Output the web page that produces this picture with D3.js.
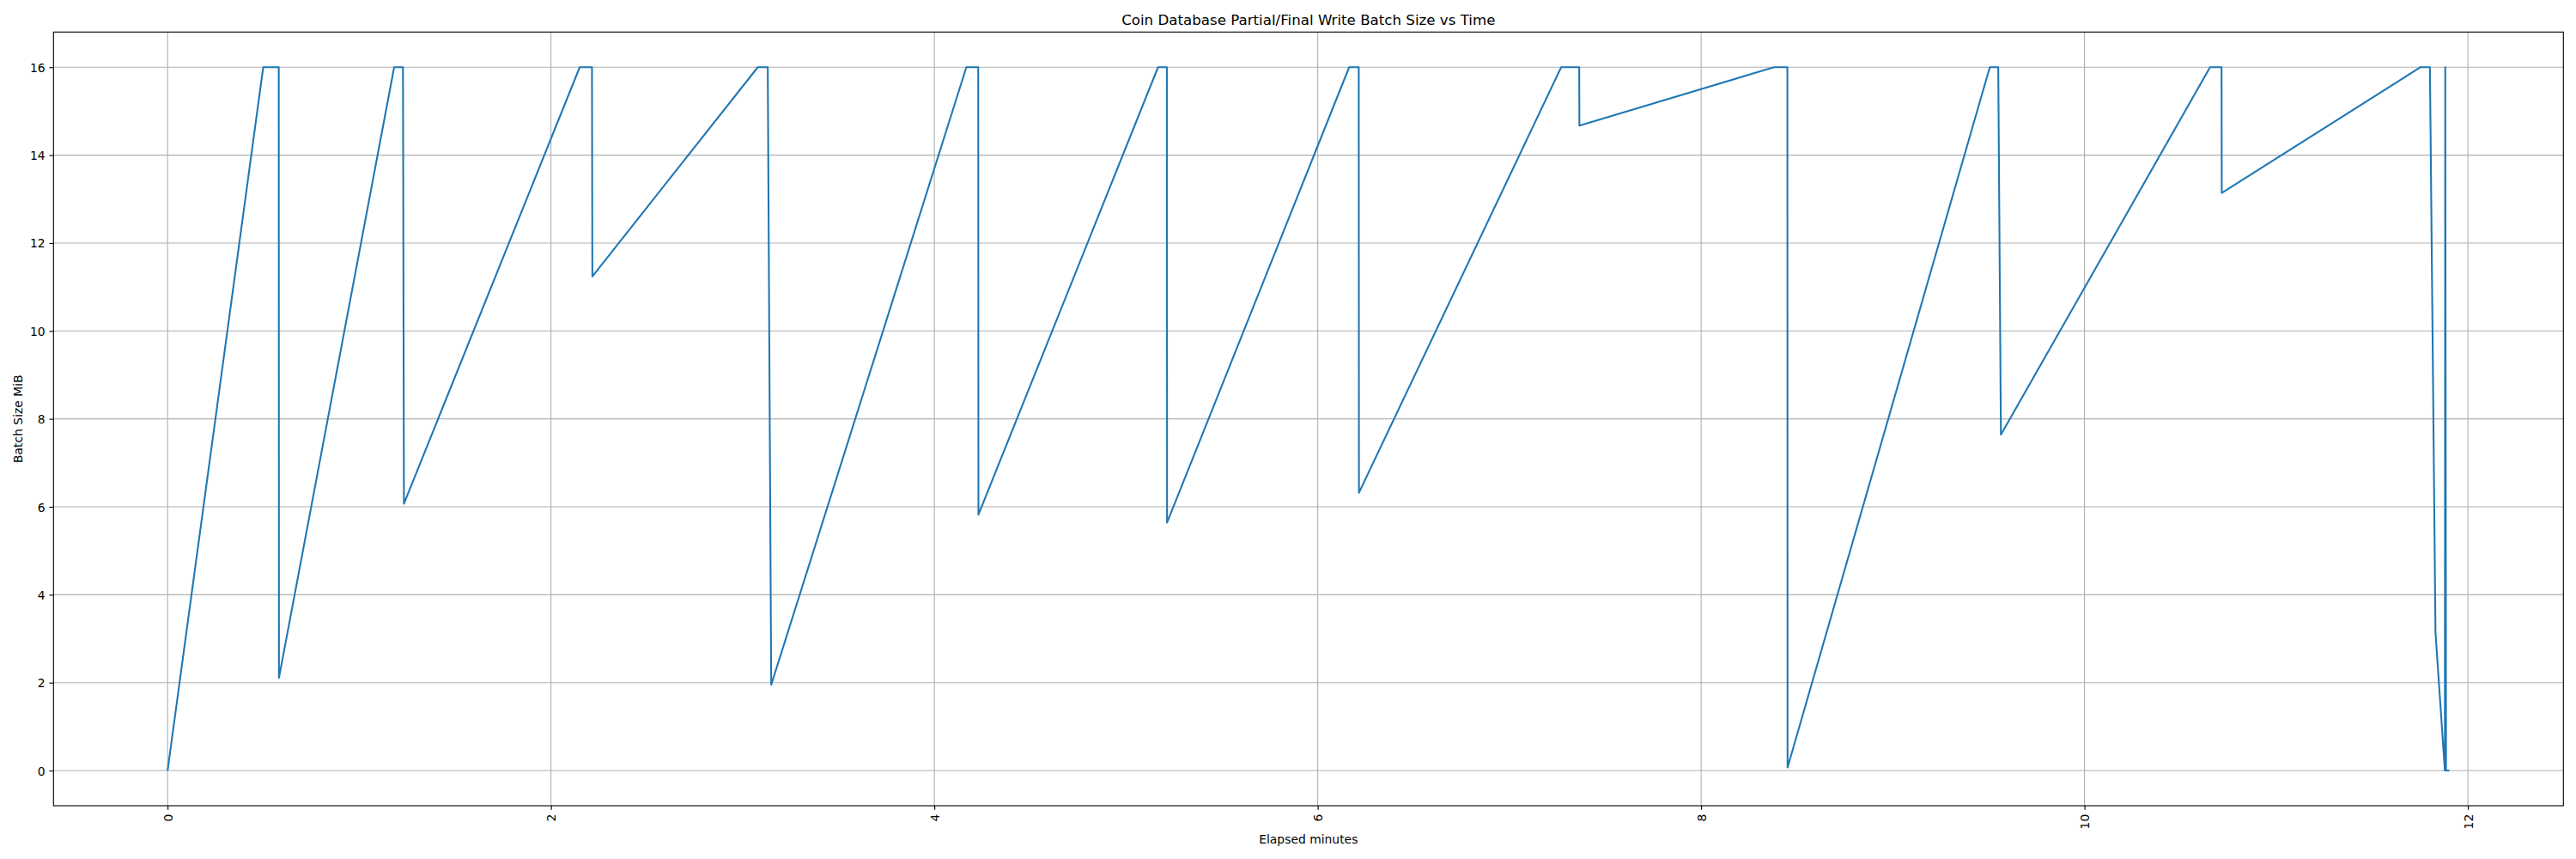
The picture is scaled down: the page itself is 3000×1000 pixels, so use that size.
<!DOCTYPE html>
<html>
<head>
<meta charset="utf-8">
<script src="https://cdn.jsdelivr.net/npm/d3@7"></script>
<style>
  html, body { margin: 0; padding: 0; background: #fff; }
  svg { display: block; font-family: "DejaVu Sans", sans-serif; }
</style>
</head>
<body>
<svg id="chart" width="3000" height="1000"></svg>
<script>
// Elapsed minutes
const elapsedMinutes = [
  0,
  0.499, 0.580, 0.581,
  1.182, 1.228, 1.233,
  2.150, 2.214, 2.216,
  3.079, 3.131, 3.149,
  4.167, 4.229, 4.230,
  5.167, 5.213, 5.214,
  6.164, 6.214, 6.215,
  7.270, 7.364, 7.365,
  8.380, 8.450, 8.451,
  9.506, 9.550, 9.564,
  10.655, 10.715, 10.716,
  11.753, 11.802, 11.831, 11.880, 11.882, 11.886, 11.903
];
// Batch Size MiB
const batchSizeMiB = [
  0,
  16, 16, 2.11,
  16, 16, 6.07,
  16, 16, 11.24,
  16, 16, 1.95,
  16, 16, 5.82,
  16, 16, 5.64,
  16, 16, 6.32,
  16, 16, 14.67,
  16, 16, 0.07,
  16, 16, 7.64,
  16, 16, 13.14,
  16, 16, 3.14, 0, 16, 0, 0
];
const xTicks = [0, 2, 4, 6, 8, 10, 12];
const yTicks = [0, 2, 4, 6, 8, 10, 12, 14, 16];
const titleText = "Coin Database Partial/Final Write Batch Size vs Time";
const xLabelText = "Elapsed minutes";
const yLabelText = "Batch Size MiB";

(function () {
  const data = elapsedMinutes.map((t, i) => ({ t, v: batchSizeMiB[i] }));

  const mLeft = 62.3, mRight = 2985.3, mTop = 37.3, mBottom = 938;
  const svg = d3.select("#chart");

  const [x0, x1] = d3.extent(elapsedMinutes);
  const xPad = (x1 - x0) * 0.05;
  const [y0, y1] = d3.extent(batchSizeMiB);
  const yPad = (y1 - y0) * 0.05;

  const x = d3.scaleLinear().domain([x0 - xPad, x1 + xPad]).range([mLeft, mRight]);
  const y = d3.scaleLinear().domain([y0 - yPad, y1 + yPad]).range([mBottom, mTop]);

  const tickLen = 4.86, tickPad = 4.86, fs = 13.9;

  // grid
  const grid = svg.append("g");
  grid.selectAll("line.gx").data(xTicks).join("line").attr("class", "gx")
    .attr("x1", d => x(d)).attr("x2", d => x(d))
    .attr("y1", mTop).attr("y2", mBottom)
    .attr("stroke", "#b0b0b0").attr("stroke-width", 1.11);
  grid.selectAll("line.gy").data(yTicks).join("line").attr("class", "gy")
    .attr("x1", mLeft).attr("x2", mRight)
    .attr("y1", d => y(d)).attr("y2", d => y(d))
    .attr("stroke", "#b0b0b0").attr("stroke-width", 1.11);

  // line
  const line = d3.line().x(d => x(d.t)).y(d => y(d.v));
  svg.append("path").datum(data)
    .attr("d", line)
    .attr("fill", "none")
    .attr("stroke", "#1f77b4")
    .attr("stroke-width", 2.08)
    .attr("stroke-linejoin", "round");

  // x axis
  const xAxis = d3.axisBottom(x).tickValues(xTicks).tickSize(tickLen).tickPadding(tickPad).tickFormat(d3.format("d"));
  const gx = svg.append("g").attr("transform", `translate(0,${mBottom})`).call(xAxis);
  gx.select(".domain").remove();
  gx.selectAll(".tick line").attr("stroke", "#000").attr("stroke-width", 1.11);
  gx.selectAll(".tick text")
    .attr("font-size", fs).attr("fill", "#000")
    .attr("y", 0).attr("dy", null)
    .attr("text-anchor", "end")
    .attr("dominant-baseline", "central")
    .attr("transform", `translate(0,${tickLen + tickPad}) rotate(-90)`)
    .attr("font-family", "DejaVu Sans");

  // y axis
  const yAxis = d3.axisLeft(y).tickValues(yTicks).tickSize(tickLen).tickPadding(tickPad).tickFormat(d3.format("d"));
  const gy = svg.append("g").attr("transform", `translate(${mLeft},0)`).call(yAxis);
  gy.select(".domain").remove();
  gy.selectAll(".tick line").attr("stroke", "#000").attr("stroke-width", 1.11);
  gy.selectAll(".tick text").attr("font-size", fs).attr("fill", "#000")
    .attr("dy", null).attr("dominant-baseline", "central")
    .attr("font-family", "DejaVu Sans");

  // frame
  svg.append("rect").attr("x", mLeft).attr("y", mTop)
    .attr("width", mRight - mLeft).attr("height", mBottom - mTop)
    .attr("fill", "none").attr("stroke", "#000").attr("stroke-width", 1.11);

  // title and labels
  svg.append("text").attr("x", (mLeft + mRight) / 2).attr("y", 29)
    .attr("text-anchor", "middle").attr("font-size", 16.67).attr("fill", "#000")
    .text(titleText);
  svg.append("text").attr("x", (mLeft + mRight) / 2).attr("y", 982)
    .attr("text-anchor", "middle").attr("font-size", fs).attr("fill", "#000")
    .text(xLabelText);
  svg.append("text")
    .attr("transform", `translate(26,${(mTop + mBottom) / 2}) rotate(-90)`)
    .attr("text-anchor", "middle").attr("font-size", fs).attr("fill", "#000")
    .text(yLabelText);
})();
</script>
</body>
</html>
